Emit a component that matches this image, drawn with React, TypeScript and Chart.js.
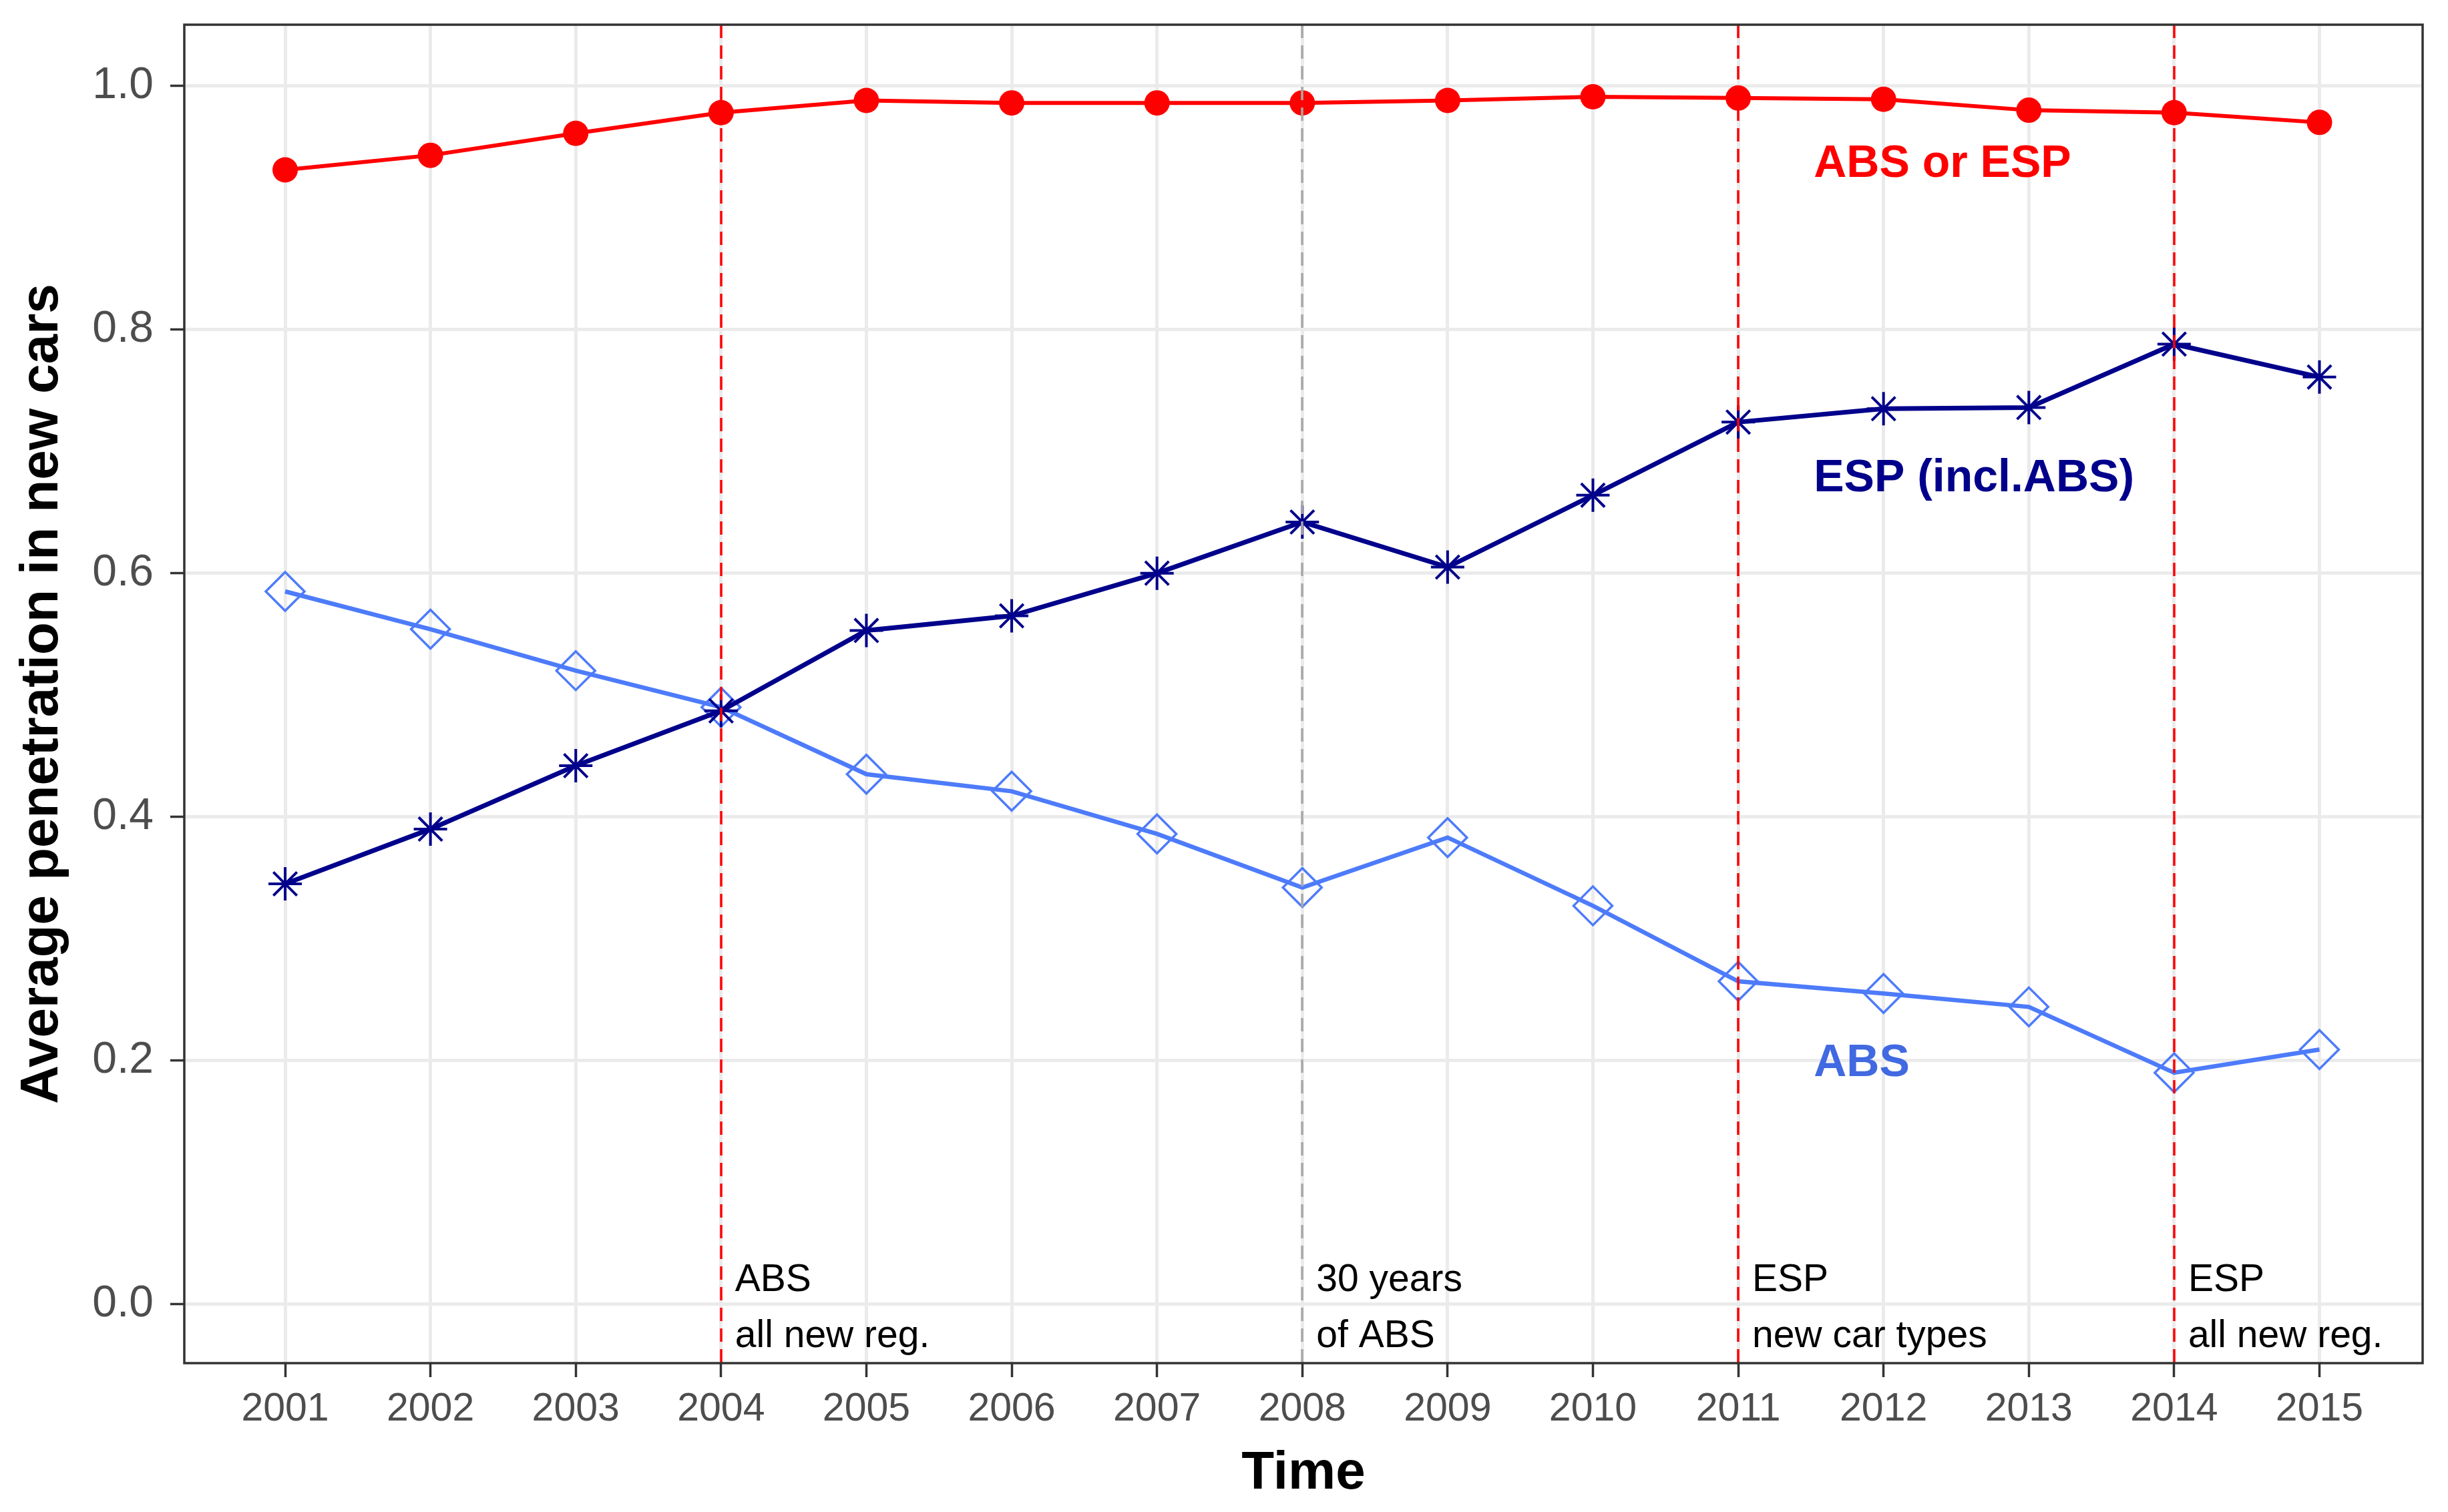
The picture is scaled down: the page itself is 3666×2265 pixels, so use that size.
import { useEffect, useRef } from "react";
import { Chart, registerables } from "chart.js";

Chart.register(...registerables);

// data
const years = [2001, 2002, 2003, 2004, 2005, 2006, 2007, 2008, 2009, 2010, 2011, 2012, 2013, 2014, 2015];
const absOrEsp = [0.931, 0.943, 0.961, 0.978, 0.988, 0.986, 0.986, 0.986, 0.988, 0.991, 0.990, 0.989, 0.980, 0.978, 0.970];
const espInclAbs = [0.345, 0.390, 0.442, 0.487, 0.553, 0.565, 0.600, 0.642, 0.605, 0.664, 0.724, 0.735, 0.736, 0.788, 0.761];
const absOnly = [0.585, 0.554, 0.520, 0.490, 0.435, 0.421, 0.386, 0.342, 0.383, 0.327, 0.265, 0.255, 0.244, 0.190, 0.209];
const yTicks = [0, 0.2, 0.4, 0.6, 0.8, 1.0];

const seriesNames = ["ABS or ESP", "ESP (incl.ABS)", "ABS"];
const eventYears = [2004, 2008, 2011, 2014];
const eventTop = ["ABS", "30 years", "ESP", "ESP"];
const eventBottom = ["all new reg.", "of ABS", "new car types", "all new reg."];

const FONT = '"Liberation Sans", Arial, sans-serif';
const RED = "#ff0000";
const NAVY = "#00008b";
const BLUE = "#4d7bfa";
const LABEL_BLUE = "#4169e1";

// where the in-plot series labels sit (data units, left edge / baseline)
const labelX = 2011.52;
const labelY = [0.925, 0.667, 0.187];
const labelColors = [RED, NAVY, LABEL_BLUE];

const overlay = {
  id: "overlay",
  afterDatasetsDraw(chart: any) {
    const { ctx, chartArea: a, scales } = chart;
    const x = scales.x;
    const y = scales.y;
    ctx.save();

    // event lines
    ctx.lineWidth = 3.5;
    ctx.setLineDash([20, 11]);
    eventYears.forEach((yr) => {
      const px = Math.round(x.getPixelForValue(yr));
      ctx.strokeStyle = yr === 2008 ? "#a8a8a8" : RED;
      ctx.beginPath();
      ctx.moveTo(px, a.top);
      ctx.lineTo(px, a.bottom);
      ctx.stroke();
    });
    ctx.setLineDash([]);

    // event notes
    ctx.font = `57px ${FONT}`;
    ctx.fillStyle = "#000000";
    ctx.textAlign = "left";
    ctx.textBaseline = "alphabetic";
    eventYears.forEach((yr, i) => {
      const px = x.getPixelForValue(yr) + 21;
      ctx.fillText(eventTop[i], px, y.getPixelForValue(0.011));
      ctx.fillText(eventBottom[i], px, y.getPixelForValue(-0.035));
    });

    // series labels
    ctx.font = `bold 68px ${FONT}`;
    seriesNames.forEach((name, i) => {
      ctx.fillStyle = labelColors[i];
      ctx.fillText(name, x.getPixelForValue(labelX), y.getPixelForValue(labelY[i]));
    });

    // panel border
    ctx.strokeStyle = "#333333";
    ctx.lineWidth = 3.5;
    ctx.strokeRect(a.left, a.top, a.right - a.left, a.bottom - a.top);
    ctx.restore();
  },
};

export default function App() {
  const canvasRef = useRef<HTMLCanvasElement>(null);

  useEffect(() => {
    const ctx = canvasRef.current?.getContext("2d");
    if (!ctx) return;

    const pts = (vals: number[]) => years.map((yr, i) => ({ x: yr, y: vals[i] }));

    const chart = new Chart(ctx, {
      type: "line",
      data: {
        datasets: [
          {
            label: seriesNames[0],
            data: pts(absOrEsp),
            borderColor: RED,
            backgroundColor: RED,
            borderWidth: 6,
            pointStyle: "circle",
            pointRadius: 19,
            pointBorderWidth: 0,
            pointBackgroundColor: RED,
            tension: 0,
            order: 0,
          },
          {
            label: seriesNames[1],
            data: pts(espInclAbs),
            borderColor: NAVY,
            backgroundColor: NAVY,
            borderWidth: 7,
            pointStyle: "star",
            pointRadius: 25,
            pointBorderWidth: 4,
            pointBorderColor: NAVY,
            tension: 0,
            order: 1,
          },
          {
            label: seriesNames[2],
            data: pts(absOnly),
            borderColor: BLUE,
            backgroundColor: "rgba(0,0,0,0)",
            borderWidth: 6.5,
            pointStyle: "rectRot",
            pointRadius: 29,
            pointBorderWidth: 3.5,
            pointBorderColor: BLUE,
            pointBackgroundColor: "rgba(0,0,0,0)",
            tension: 0,
            order: 2,
          },
        ],
      },
      options: {
        animation: false,
        responsive: true,
        maintainAspectRatio: false,
        devicePixelRatio: 1,
        layout: { autoPadding: false, padding: { top: 37, right: 38, left: 0, bottom: 0 } },
        plugins: {
          legend: { display: false },
          tooltip: { enabled: false },
        },
        scales: {
          x: {
            type: "linear",
            min: 2000.306,
            max: 2015.71,
            afterBuildTicks: (s: any) => {
              s.ticks = years.map((v) => ({ value: v }));
            },
            afterFit: (s: any) => {
              s.height = 223;
              s.paddingLeft = 0;
              s.paddingRight = 0;
            },
            grid: {
              color: "#ebebeb",
              lineWidth: 5,
              tickColor: "#333333",
              tickWidth: 3.5,
              tickLength: 21,
            },
            border: { display: false },
            ticks: {
              color: "#4d4d4d",
              font: { family: FONT, size: 59, lineHeight: 1 },
              padding: 19,
              maxRotation: 0,
              autoSkip: false,
              callback: (v: any) => String(v),
            },
            title: {
              display: true,
              text: "Time",
              color: "#000000",
              font: { family: FONT, size: 80, weight: "bold", lineHeight: 1 },
              padding: { top: 0, bottom: 17 },
            },
          },
          y: {
            type: "linear",
            min: -0.0484,
            max: 1.0502,
            afterBuildTicks: (s: any) => {
              s.ticks = yTicks.map((v) => ({ value: v }));
            },
            afterFit: (s: any) => {
              s.width = 276;
              s.paddingTop = 0;
              s.paddingBottom = 0;
            },
            grid: {
              color: "#ebebeb",
              lineWidth: 5,
              tickColor: "#333333",
              tickWidth: 3.5,
              tickLength: 21,
            },
            border: { display: false },
            ticks: {
              color: "#4d4d4d",
              font: { family: FONT, size: 66, lineHeight: 1 },
              padding: 25,
              callback: (v: any) => Number(v).toFixed(1),
            },
            title: {
              display: true,
              text: "Average penetration in new cars",
              color: "#000000",
              font: { family: FONT, size: 80, weight: "bold", lineHeight: 1 },
              padding: { top: 24, bottom: 0 },
            },
          },
        },
      },
      plugins: [overlay],
    });

    return () => chart.destroy();
  }, []);

  return (
    <div style={{ position: "absolute", left: 0, top: 0, width: 3666, height: 2265, background: "#ffffff" }}>
      <canvas ref={canvasRef} />
    </div>
  );
}
